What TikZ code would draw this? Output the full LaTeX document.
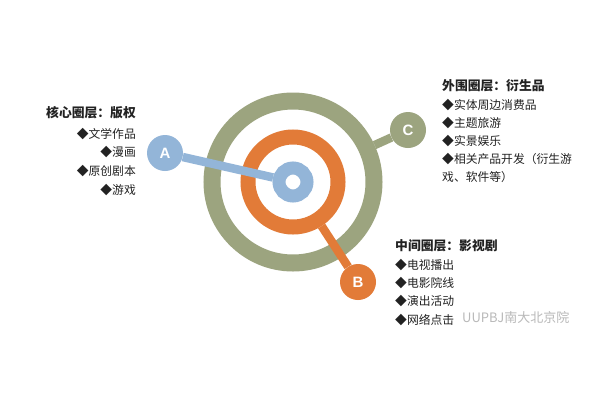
\documentclass[tikz,border=0pt]{standalone}
\usepackage{fontspec}
\setmainfont{Noto Sans CJK SC}
\newfontfamily\letterfont{Liberation Sans}
\definecolor{cblue}{HTML}{93B5D8}
\definecolor{cgreen}{HTML}{9CA47F}
\definecolor{corange}{HTML}{E27B38}
\definecolor{ctext}{HTML}{222222}
\pgfdeclarelayer{bg}
\pgfdeclarelayer{rings}
\pgfdeclarelayer{lines}
\pgfsetlayers{bg,rings,lines,main}
\begin{document}
\begin{tikzpicture}[x=1pt,y=-1pt,
  ringnode/.style={circle,inner sep=0pt,fill=none},
  badge/.style={circle,inner sep=0pt,minimum size=36pt,text=white,font=\letterfont\bfseries\fontsize{15}{15}\selectfont},
  title/.style={text=ctext,inner sep=0pt,font=\bfseries\fontsize{12.8}{14}\selectfont},
  item/.style={text=ctext,inner sep=0pt,font=\fontsize{11.8}{14}\selectfont},
  conn/.style={line width=8.5pt}]
\begin{pgfonlayer}{bg}
\fill[white] (0,0) rectangle (600,400);
\end{pgfonlayer}
\useasboundingbox (0,0) rectangle (600,400);
% small nodes
\node[ringnode,draw=cblue,line width=13pt,minimum size=28pt] (ctr) at (293,182) {};
\node[badge,fill=cblue] (A) at (165,153) {A};
\node[badge,fill=corange] (B) at (358,282) {B};
\node[badge,fill=cgreen] (C) at (408,130) {C};
\begin{pgfonlayer}{rings}
\node[ringnode,draw=cgreen,line width=17pt,minimum size=162pt] (gring) at (293,182) {};
\node[ringnode,draw=corange,line width=15pt,minimum size=90pt] (oring) at (293,182) {};
\end{pgfonlayer}
\begin{pgfonlayer}{lines}
\draw[conn,cblue] (A) -- (ctr);
\draw[conn,corange] (oring) -- (B);
\draw[conn,cgreen] (gring) -- (C);
\end{pgfonlayer}
% left text
\node[title,anchor=east] (t1) at (136,113) {核心圈层：版权};
\node[item,anchor=east] (t1a) at (136,134) {◆文学作品};
\node[item,anchor=east] (t1b) at (136,152) {◆漫画};
\node[item,anchor=east] (t1c) at (136,171) {◆原创剧本};
\node[item,anchor=east] (t1d) at (136,190) {◆游戏};
% top right text
\node[title,anchor=west] (t2) at (442,86) {外围圈层：衍生品};
\node[item,anchor=west] (t2a) at (442,105) {◆实体周边消费品};
\node[item,anchor=west] (t2b) at (442,123) {◆主题旅游};
\node[item,anchor=west] (t2c) at (442,141) {◆实景娱乐};
\node[item,anchor=west] (t2d) at (442,159) {◆相关产品开发（衍生游};
\node[item,anchor=west] (t2e) at (442,177) {戏、软件等）};
% bottom right text
\node[title,anchor=west] (t3) at (395,246) {中间圈层：影视剧};
\node[item,anchor=west] (t3a) at (395,265) {◆电视播出};
\node[item,anchor=west] (t3b) at (395,283) {◆电影院线};
\node[item,anchor=west] (t3c) at (395,301) {◆演出活动};
\node[item,anchor=west] (t3d) at (395,320) {◆网络点击};
% watermark
\node[text=gray!55,inner sep=0pt,anchor=west,font=\fontsize{13}{14}\selectfont] (wm) at (462,318) {UUPBJ南大北京院};
\end{tikzpicture}
\end{document}
